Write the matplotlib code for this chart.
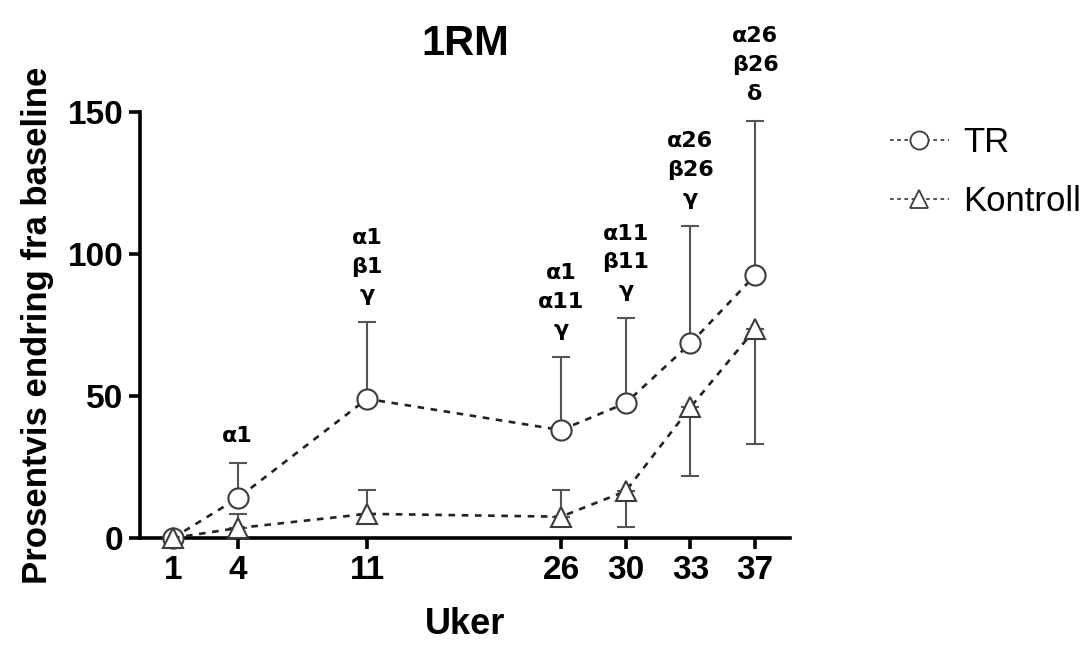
import matplotlib
matplotlib.use("Agg")
import matplotlib.pyplot as plt
from matplotlib.lines import Line2D

# ---- data ----
weeks = ["1", "4", "11", "26", "30", "33", "37"]
x_pos = [0, 1, 3, 6, 7, 8, 9]
tr_mean = [0, 14, 49, 38, 47.5, 68.5, 92.5]
tr_err_upper = [0, 12.4, 27, 25.7, 30, 41.5, 54.5]
kon_mean = [0, 3.5, 8.5, 7.5, 16.5, 46, 73.5]
kon_err_upper = [0, 5, 8.5, 9.5, 0, 0, 0]
kon_err_lower = [0, 0, 0, 0, 12.5, 24, 40.5]
annotations = ["", "α1", "α1\nβ1\nγ", "α1\nα11\nγ", "α11\nβ11\nγ", "α26\nβ26\nγ", "α26\nβ26\nδ"]
yticks = [0, 50, 100, 150]

plt.rcParams['font.family'] = ['Liberation Sans', 'DejaVu Sans']

fig = plt.figure(figsize=(10.88, 6.48), dpi=100)
ax = fig.add_axes([140/1088, 1-538/648, (790-140)/1088, (538-112)/648])

mk_edge = "#3c3c3c"
err_col = "#555555"

# error bars
ax.errorbar(x_pos, tr_mean, yerr=[[0]*len(tr_mean), tr_err_upper], fmt="none",
            ecolor=err_col, elinewidth=1.5, capsize=6.5, capthick=1.5, zorder=2, clip_on=False)
ax.errorbar(x_pos, kon_mean, yerr=[kon_err_lower, kon_err_upper], fmt="none",
            ecolor=err_col, elinewidth=1.5, capsize=6.5, capthick=1.5, zorder=2, clip_on=False)

# lines with markers
ax.plot(x_pos, tr_mean, linestyle=(0, (2.5, 2.5)), color="#222222", lw=1.9,
        marker="o", markersize=14.5, markerfacecolor="white", markeredgecolor=mk_edge,
        markeredgewidth=1.5, zorder=3, clip_on=False)
ax.plot(x_pos, kon_mean, linestyle=(0, (2.5, 2.5)), color="#222222", lw=1.9,
        marker="^", markersize=15, markerfacecolor="white", markeredgecolor=mk_edge,
        markeredgewidth=1.5, zorder=3, clip_on=False)

# annotations above caps
for xi, m, e, txt in zip(x_pos, tr_mean, tr_err_upper, annotations):
    if txt:
        ax.annotate(txt, xy=(xi, m + e), xytext=(0, 12), textcoords="offset points",
                    ha="center", va="bottom", fontsize=16, fontweight="bold",
                    family=["DejaVu Sans"], linespacing=1.55,
                    annotation_clip=False)

ax.set_xlim(-0.51, 9.54)
ax.set_ylim(0, 150)
ax.set_xticks(x_pos)
ax.set_xticklabels(weeks)
ax.set_yticks(yticks)
for lab in ax.get_xticklabels() + ax.get_yticklabels():
    lab.set_fontweight("bold")
    lab.set_fontsize(24)

for s in ["top", "right"]:
    ax.spines[s].set_visible(False)
for s in ["left", "bottom"]:
    ax.spines[s].set_linewidth(2.6)
ax.tick_params(axis="both", length=8, width=2.6, pad=4)

ax.set_xlabel("Uker", fontsize=26, fontweight="bold", labelpad=15)
ax.set_ylabel("Prosentvis endring fra baseline", fontsize=25, fontweight="bold", labelpad=10)
ax.set_title("1RM", fontsize=30, fontweight="bold", pad=41)

handles = [
    Line2D([], [], linestyle=(0, (2, 2)), color="#444444", lw=1.3, marker="o", markersize=13,
           markerfacecolor="white", markeredgecolor=mk_edge, markeredgewidth=1.3),
    Line2D([], [], linestyle=(0, (2, 2)), color="#444444", lw=1.3, marker="^", markersize=13,
           markerfacecolor="white", markeredgecolor=mk_edge, markeredgewidth=1.3),
]
fig.legend(handles, ["TR", "Kontroll"], loc="upper left", bbox_to_anchor=(876/1088, 1-112/648),
           frameon=False, fontsize=25, handlelength=1.7, labelspacing=0.75, handletextpad=0.4,
           borderaxespad=0)

fig.savefig("out.png", dpi=100)
